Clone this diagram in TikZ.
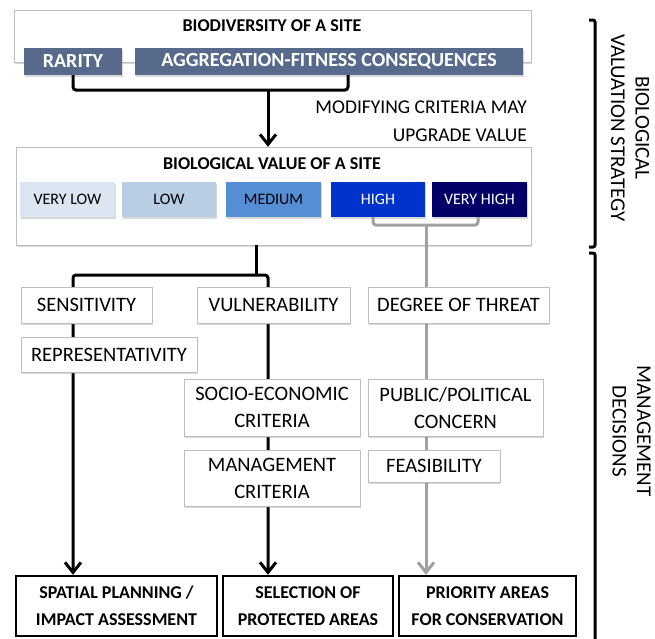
\documentclass[tikz,border=0pt]{standalone}
\usepackage{fontspec}
\setmainfont{Carlito}
\usepackage{tikz}
\usetikzlibrary{shapes.geometric, arrows.meta, shadows}
\definecolor{slate}{RGB}{88,106,140}
\definecolor{boxgray}{RGB}{190,190,190}
\definecolor{linegray}{RGB}{160,160,160}
\definecolor{verylowblue}{RGB}{220,230,242}
\definecolor{lowblue}{RGB}{185,205,229}
\definecolor{mediumblue}{RGB}{85,142,213}
\definecolor{highblue}{RGB}{0,51,204}
\definecolor{veryhighblue}{RGB}{0,0,102}
\tikzstyle{boxshadow} = [drop shadow={opacity=0.3, shadow xshift=1pt, shadow yshift=-1.5pt}]
\tikzstyle{container} = [rectangle, draw=boxgray, fill=white, inner sep=0pt, boxshadow]
\tikzstyle{title} = [inner sep=0pt, font=\bfseries\fontsize{18}{20}\selectfont]
\tikzstyle{header} = [rectangle, fill=slate, text=white, minimum height=27, inner sep=0pt, font=\bfseries\fontsize{20}{22}\selectfont, boxshadow]
\tikzstyle{level} = [rectangle, minimum height=35, inner sep=0pt, font=\fontsize{16}{18}\selectfont, boxshadow]
\tikzstyle{criterion} = [rectangle, draw=boxgray, fill=white, align=center, inner sep=0pt, font=\fontsize{20.5}{27}\selectfont, boxshadow]
\tikzstyle{outcome} = [rectangle, draw=black, line width=2.5pt, fill=white, align=center, minimum height=60, inner sep=0pt, font=\bfseries\fontsize{18}{27}\selectfont]
\tikzstyle{note} = [align=right, inner sep=0pt, font=\fontsize{19.5}{28}\selectfont]
\tikzstyle{side} = [rotate=-90, align=center, inner sep=0pt, font=\fontsize{21}{24.5}\selectfont]
\tikzstyle{line} = [line width=3pt, >={Straight Barb[length=10pt,width=16pt]}]
\tikzstyle{arrow} = [line, ->]
\tikzstyle{grayline} = [line, draw=linegray]
\tikzstyle{grayarrow} = [grayline, ->]

\begin{document}
\begin{tikzpicture}[x=1pt, y=-1pt]
        \useasboundingbox (0,0) rectangle (655,638);

        \node (sitebox) [container, minimum width=517, minimum height=52] at (272.5,36) {};
        \node (sitetitle) [title] at (272,26) {BIODIVERSITY OF A SITE};
        \node (rarity) [header, minimum width=98] at (73,61.5) {RARITY};
        \node (aggregation) [header, minimum width=388] at (329,61.5) {AGGREGATION-FITNESS CONSEQUENCES};
        \node (modifying) [note, anchor=east] at (527,121) {MODIFYING CRITERIA MAY\\UPGRADE VALUE};

        \node (valuebox) [container, minimum width=515, minimum height=98] at (273.5,196) {};
        \node (valuetitle) [title] at (272,164) {BIOLOGICAL VALUE OF A SITE};
        \node (verylow) [level, fill=verylowblue, minimum width=95] at (67.5,199.5) {VERY LOW};
        \node (low) [level, fill=lowblue, minimum width=94] at (169,199.5) {LOW};
        \node (medium) [level, fill=mediumblue, minimum width=95] at (273.5,199.5) {MEDIUM};
        \node (high) [level, fill=highblue, text=white, minimum width=94] at (378,199.5) {HIGH};
        \node (veryhigh) [level, fill=veryhighblue, text=white, minimum width=95] at (479.5,199.5) {VERY HIGH};

        \node (spatial) [outcome, minimum width=201] at (116.5,606) {SPATIAL PLANNING /\\IMPACT ASSESSMENT};
        \node (selection) [outcome, minimum width=170] at (308,606) {SELECTION OF\\PROTECTED AREAS};
        \node (priority) [outcome, minimum width=177] at (487.5,606) {PRIORITY AREAS\\FOR CONSERVATION};

        \coordinate (topjoin) at (268,90);
        \draw [line, rounded corners=3] (rarity.south) |- (topjoin) -| ([xshift=19]aggregation.south);
        \draw [arrow] (topjoin) -- (valuebox.north -| topjoin);

        \coordinate (graysplit) at (426,225);
        \draw [grayline, rounded corners=3] ([xshift=-5]high.south) |- (graysplit) -| ([xshift=-1.5]veryhigh.south);
        \draw [grayarrow] (graysplit) -- (priority.north -| graysplit);

        \coordinate (split) at (256,275);
        \coordinate (leftcol) at (73,275);
        \coordinate (midcol) at (268,275);
        \draw [line] (valuebox.south -| split) -- (split);
        \draw [line, <->, rounded corners=3] (spatial.north -| leftcol) -- (leftcol) -- (midcol) -- (selection.north -| midcol);

        \node (sensitivity) [criterion, minimum width=131, minimum height=36] at (86.5,305) {SENSITIVITY};
        \node (representativity) [criterion, minimum width=176, minimum height=35] at (109,354.5) {REPRESENTATIVITY};
        \node (vulnerability) [criterion, minimum width=153, minimum height=36] at (273.5,305) {VULNERABILITY};
        \node (socio) [criterion, minimum width=176, minimum height=57] at (272,407.5) {SOCIO-ECONOMIC\\CRITERIA};
        \node (management) [criterion, minimum width=176, minimum height=56] at (272,478) {MANAGEMENT\\CRITERIA};
        \node (threat) [criterion, minimum width=181, minimum height=36] at (458.5,305) {DEGREE OF THREAT};
        \node (public) [criterion, minimum width=175, minimum height=57] at (455.5,407.5) {PUBLIC/POLITICAL\\CONCERN};
        \node (feasibility) [criterion, minimum width=132, minimum height=32] at (434,466) {FEASIBILITY};

        \draw [line, rounded corners=2] (589,20) -- (595,20) -- (595,247) -- (589,247);
        \draw [line, rounded corners=2] (589,253) -- (595,253) -- (595,640);
        \node (valuation) [side] at (630,128) {BIOLOGICAL\\VALUATION STRATEGY};
        \node (decisions) [side] at (631.5,431) {MANAGEMENT\\DECISIONS};
    \end{tikzpicture}
\end{document}
